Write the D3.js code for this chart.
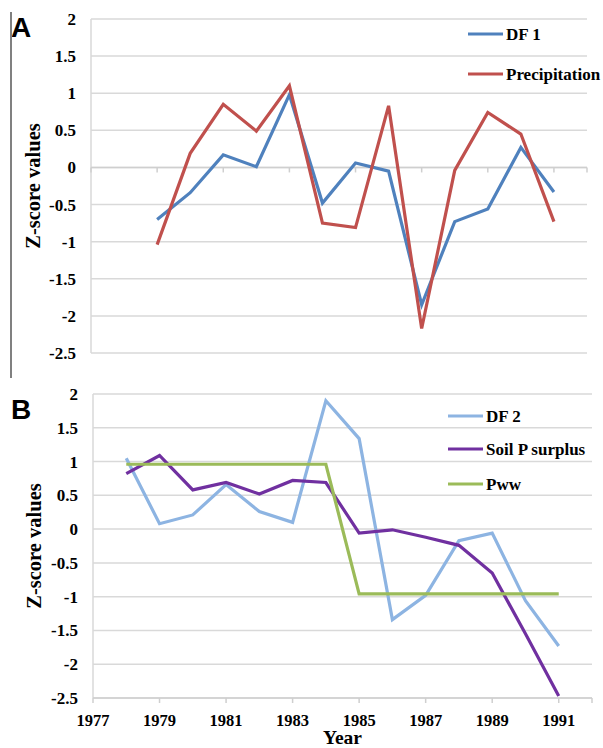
<!DOCTYPE html>
<html>
<head>
<meta charset="utf-8">
<script src="https://cdn.jsdelivr.net/npm/d3@7"></script>
<style>
  html, body { margin: 0; padding: 0; background: #fff; }
  svg { display: block; }
</style>
</head>
<body>
<svg id="chart" width="603" height="748"></svg>
<script>
// ---- Panel A: discriminant function 1 vs precipitation ----
const yearsA = [1979, 1980, 1981, 1982, 1983, 1984, 1985, 1986, 1987, 1988, 1989, 1990, 1991];
const df1 = [-0.70, -0.34, 0.17, 0.01, 0.98, -0.48, 0.06, -0.05, -1.85, -0.73, -0.56, 0.27, -0.33];
const precipitation = [-1.04, 0.19, 0.85, 0.49, 1.10, -0.75, -0.81, 0.83, -2.17, -0.04, 0.74, 0.45, -0.73];

// ---- Panel B: discriminant function 2 vs soil P surplus and Pww ----
const yearsB = [1978, 1979, 1980, 1981, 1982, 1983, 1984, 1985, 1986, 1987, 1988, 1989, 1990, 1991];
const df2 = [1.05, 0.08, 0.21, 0.66, 0.26, 0.10, 1.90, 1.34, -1.34, -0.98, -0.17, -0.06, -1.06, -1.73];
const soilPSurplus = [0.82, 1.09, 0.58, 0.69, 0.52, 0.72, 0.69, -0.06, -0.01, -0.12, -0.24, -0.65, -1.55, -2.47];
const pww = [0.96, 0.96, 0.96, 0.96, 0.96, 0.96, 0.96, -0.96, -0.96, -0.96, -0.96, -0.96, -0.96, -0.96];

// ---- Shared axes ----
const yTicks = [2, 1.5, 1, 0.5, 0, -0.5, -1, -1.5, -2, -2.5];
const yTickLabels = ["2", "1.5", "1", "0.5", "0", "-0.5", "-1", "-1.5", "-2", "-2.5"];
const xTicks = [1977, 1979, 1981, 1983, 1985, 1987, 1989, 1991];
const yTitle = "Z-score values";
const xTitle = "Year";

const SERIF = '"Liberation Serif"';
const SANS = '"Liberation Sans"';
const gridColor = "#d9d9d9";

const svg = d3.select("#chart");

// bold text helper
function label(sel, family, size) {
  return sel.style("font-family", family)
    .style("font-weight", "bold")
    .style("font-size", size + "px")
    .attr("fill", "#000");
}

function drawPanel(cfg) {
  const x = d3.scaleLinear().domain([1977, 1992]).range([cfg.left, cfg.right]);
  const y = d3.scaleLinear().domain([-2.5, 2]).range([cfg.bottom, cfg.top]);
  const g = svg.append("g");

  // horizontal gridlines
  g.append("g").selectAll("line").data(yTicks).join("line")
    .attr("x1", cfg.left).attr("x2", cfg.right)
    .attr("y1", d => y(d)).attr("y2", d => y(d))
    .attr("stroke", gridColor).attr("stroke-width", 1.5);

  // vertical axis line
  g.append("line")
    .attr("x1", cfg.left).attr("x2", cfg.left)
    .attr("y1", cfg.top).attr("y2", cfg.bottom)
    .attr("stroke", gridColor).attr("stroke-width", 1.5);

  // y tick labels
  label(g.append("g").selectAll("text").data(yTicks).join("text"), SERIF, 17)
    .attr("x", cfg.left - 15).attr("y", d => y(d))
    .attr("dy", "0.35em").attr("text-anchor", "end")
    .text((d, i) => yTickLabels[i]);

  // category axis with tick marks
  const axisY = y(cfg.axisAt);
  g.append("line")
    .attr("x1", cfg.left).attr("x2", cfg.right)
    .attr("y1", axisY).attr("y2", axisY)
    .attr("stroke", "#cfcfcf").attr("stroke-width", 1.5);
  g.append("g").selectAll("line").data(xTicks.concat([1992])).join("line")
    .attr("x1", d => x(d)).attr("x2", d => x(d))
    .attr("y1", axisY).attr("y2", axisY + 5)
    .attr("stroke", "#cfcfcf").attr("stroke-width", 1.5);

  if (cfg.showYears) {
    label(g.append("g").selectAll("text").data(xTicks).join("text"), SERIF, 16.5)
      .attr("x", d => x(d)).attr("y", axisY + 28)
      .attr("text-anchor", "middle")
      .text(d => d);
    label(g.append("text"), SERIF, 19.5)
      .attr("x", (cfg.left + cfg.right) / 2).attr("y", axisY + 46)
      .attr("text-anchor", "middle")
      .text(xTitle);
  }

  // y axis title
  const cy = (cfg.top + cfg.bottom) / 2;
  label(g.append("text"), SERIF, 20.5)
    .attr("transform", `translate(${cfg.titleX},${cy}) rotate(-90)`)
    .attr("text-anchor", "middle")
    .text(yTitle);

  // panel letter
  label(g.append("text"), SANS, 28)
    .attr("x", 11).attr("y", cfg.letterY)
    .text(cfg.letter);

  // series lines
  const line = d3.line().x(d => x(d[0])).y(d => y(d[1]));
  cfg.series.forEach(s => {
    g.append("path")
      .datum(cfg.years.map((yr, i) => [yr, s.values[i]]))
      .attr("d", line)
      .attr("fill", "none")
      .attr("stroke", s.color)
      .attr("stroke-width", 3.2)
      .attr("stroke-linejoin", "miter");
  });

  // legend
  cfg.series.forEach((s, i) => {
    const ly = cfg.legendY[i];
    g.append("line")
      .attr("x1", cfg.legendX).attr("x2", cfg.legendX + 35)
      .attr("y1", ly).attr("y2", ly)
      .attr("stroke", s.color).attr("stroke-width", 3.2);
    label(g.append("text"), SERIF, 17)
      .attr("x", cfg.legendX + 38).attr("y", ly).attr("dy", "0.35em")
      .text(s.name);
  });
}

drawPanel({
  letter: "A", letterY: 37,
  left: 91, right: 587, top: 19, bottom: 353,
  axisAt: 0, showYears: false, titleX: 40,
  years: yearsA,
  series: [
    { name: "DF 1", values: df1, color: "#4f81bd" },
    { name: "Precipitation", values: precipitation, color: "#c0504d" }
  ],
  legendX: 468, legendY: [34, 74]
});

drawPanel({
  letter: "B", letterY: 419,
  left: 93, right: 592, top: 394, bottom: 698,
  axisAt: -2.5, showYears: true, titleX: 41,
  years: yearsB,
  series: [
    { name: "DF 2", values: df2, color: "#8db4e2" },
    { name: "Soil P surplus", values: soilPSurplus, color: "#7030a0" },
    { name: "Pww", values: pww, color: "#9bbb59" }
  ],
  legendX: 448, legendY: [416, 449, 484]
});

// divider line beside panel A
svg.append("line")
  .attr("x1", 11).attr("x2", 11).attr("y1", 12).attr("y2", 378)
  .attr("stroke", "#808080").attr("stroke-width", 2);
</script>
</body>
</html>
